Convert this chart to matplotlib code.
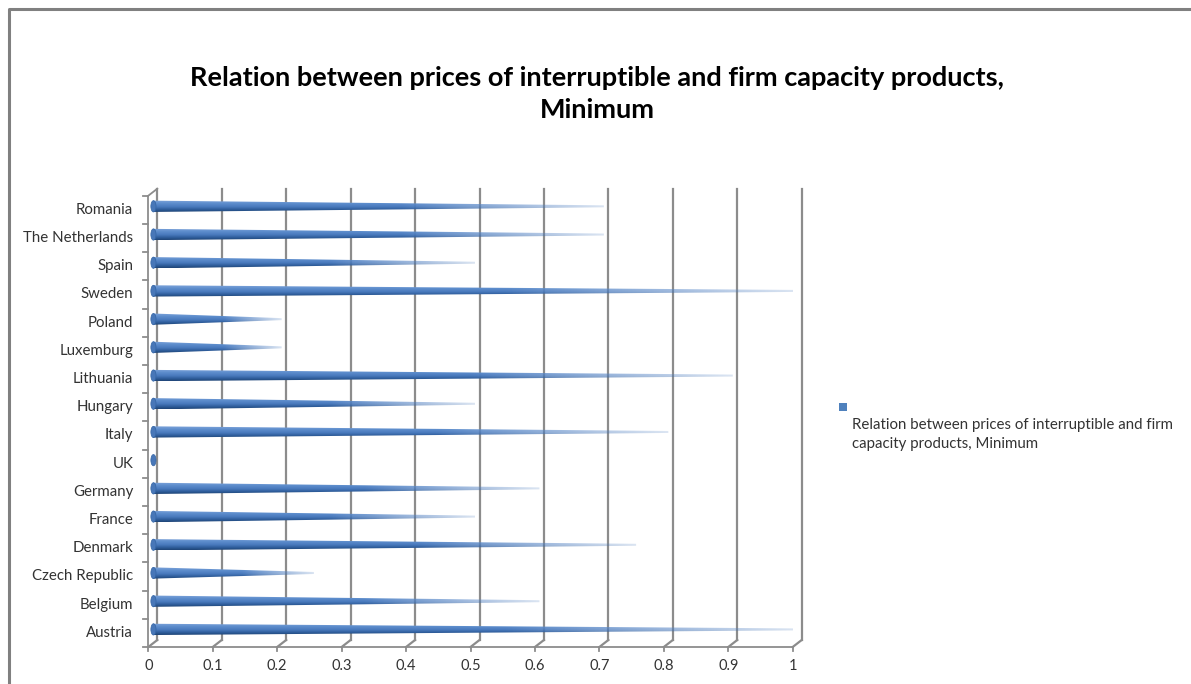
import numpy as np
import matplotlib
matplotlib.use("Agg")
import matplotlib.pyplot as plt
from matplotlib.colors import LinearSegmentedColormap
from matplotlib.patches import Polygon, Ellipse
from matplotlib.lines import Line2D
from matplotlib.transforms import offset_copy

plt.rcParams['font.family'] = ['Lato', 'DejaVu Sans']

countries = ["Austria", "Belgium", "Czech Republic", "Denmark", "France", "Germany",
             "UK", "Italy", "Hungary", "Lithuania", "Luxemburg", "Poland",
             "Sweden", "Spain", "The Netherlands", "Romania"]
values = [1.0, 0.6, 0.25, 0.75, 0.5, 0.6, 0.0, 0.8, 0.5, 0.9, 0.2, 0.2, 1.0, 0.5, 0.7, 0.7]
xticks = [0, 0.1, 0.2, 0.3, 0.4, 0.5, 0.6, 0.7, 0.8, 0.9, 1]
xticklabels = ["0", "0.1", "0.2", "0.3", "0.4", "0.5", "0.6", "0.7", "0.8", "0.9", "1"]
series_name = "Relation between prices of interruptible and firm\ncapacity products, Minimum"
title = "Relation between prices of interruptible and firm capacity products,\nMinimum"

W, H = 1191, 684
fig = plt.figure(figsize=(W / 100, H / 100), dpi=100)

# front plane of the 3D box, in pixels
left, right, bottom, top = 148.3, 792.7, 647.0, 195.7
ax = fig.add_axes([left / W, 1 - bottom / H, (right - left) / W, (bottom - top) / H])
ax.set_xlim(0, 1)
ax.set_ylim(-0.5, len(countries) - 0.5)
ax.axis("off")

grid_c = "#8c8c8c"
text_c = "#333333"
depth_dx, depth_dy = 9, 7
back = offset_copy(ax.transData, fig, x=depth_dx, y=depth_dy, units="dots")
mid = offset_copy(ax.transData, fig, x=depth_dx / 2, y=depth_dy / 2, units="dots")
y0, y1 = -0.5, len(countries) - 0.5

# back wall gridlines and floor diagonals
for xv in xticks:
    ax.plot([xv, xv], [y0, y1], color=grid_c, lw=1.6, transform=back, clip_on=False, zorder=1)
    xa, ya = ax.transData.transform((xv, y0))
    xb, yb = back.transform((xv, y0))
    fig.add_artist(Line2D([xa / W, xb / W], [ya / H, yb / H], color=grid_c, lw=1.6, zorder=1))
# left wall edges
xa, ya = ax.transData.transform((0, y1))
xb, yb = back.transform((0, y1))
fig.add_artist(Line2D([xa / W, xb / W], [ya / H, yb / H], color=grid_c, lw=1.3, zorder=1))
ax.plot([0, 0], [y0, y1], color=grid_c, lw=1.3, clip_on=False, zorder=1)
ax.plot([0, 1], [y0, y0], color=grid_c, lw=1.3, clip_on=False, zorder=1)

# tick marks and labels
for xv, lab in zip(xticks, xticklabels):
    xa, ya = ax.transData.transform((xv, y0))
    fig.add_artist(Line2D([xa / W, xa / W], [ya / H, (ya - 4) / H], color=grid_c, lw=1.3))
    fig.text(xa / W, (ya - 12) / H, lab, ha="center", va="top", fontsize=10.5, color=text_c)
for i in range(len(countries) + 1):
    xa, ya = ax.transData.transform((0, i - 0.5))
    fig.add_artist(Line2D([(xa - 5) / W, xa / W], [ya / H, ya / H], color=grid_c, lw=1.3))
for i, name in enumerate(countries):
    xa, ya = ax.transData.transform((0, i))
    fig.text((xa - 15) / W, ya / H, name, ha="right", va="center", fontsize=10.8, color=text_c)

# cone shading: across the diameter (rows) and fading towards the tip (columns)
shade = LinearSegmentedColormap.from_list(
    "cone", [(0, "#7da4da"), (0.3, "#5b8bcb"), (0.55, "#4a7bbe"), (0.8, "#2e5c9a"), (1, "#1f4577")])
rows, cols = 40, 200
prof = shade(np.linspace(0, 1, rows))
img = np.repeat(prof[:, None, :], cols, axis=1)
u = np.linspace(0, 1, cols)
fade = np.clip(1 - 0.8 * (u - 0.55) / 0.45, 0.2, 1)
img[:, :, 3] = fade[None, :]

r = 0.2
tip = 0.035
for i, v in enumerate(values):
    if v > 0:
        cone = Polygon([[0, i + r], [v, i + tip], [v, i - tip], [0, i - r]], closed=True,
                       transform=mid, facecolor="none", edgecolor="none")
        ax.add_patch(cone)
        im = ax.imshow(img, extent=[0, v, i - r, i + r], aspect="auto", origin="upper",
                       interpolation="bilinear", zorder=3)
        im.set_transform(mid)
        im.set_clip_path(cone)
    ax.add_patch(Ellipse((0.001, i), 0.008, 2 * r, transform=mid, facecolor="#4877b8",
                         edgecolor="#3465a4", lw=0.5, zorder=4))
ax.set_xlim(0, 1)
ax.set_ylim(y0, y1)

# legend
fig.patches.append(plt.Rectangle((839 / W, 1 - 411 / H), 8 / W, 8 / H, transform=fig.transFigure,
                                 facecolor="#4f81bd", edgecolor="none"))
fig.text(852 / W, 1 - 418 / H, series_name, ha="left", va="top", fontsize=10.8,
         color=text_c, linespacing=1.45)

fig.text(597 / W, 1 - 94 / H, title, ha="center", va="center", fontsize=19.5,
         fontweight="bold", color="black", linespacing=1.35)

# outer frame (top and left edges)
fig.add_artist(Line2D([8.5 / W, 8.5 / W, 1], [0, 1 - 8.5 / H, 1 - 8.5 / H], color="#808080", lw=2.2))

fig.savefig("out.png", dpi=100)
